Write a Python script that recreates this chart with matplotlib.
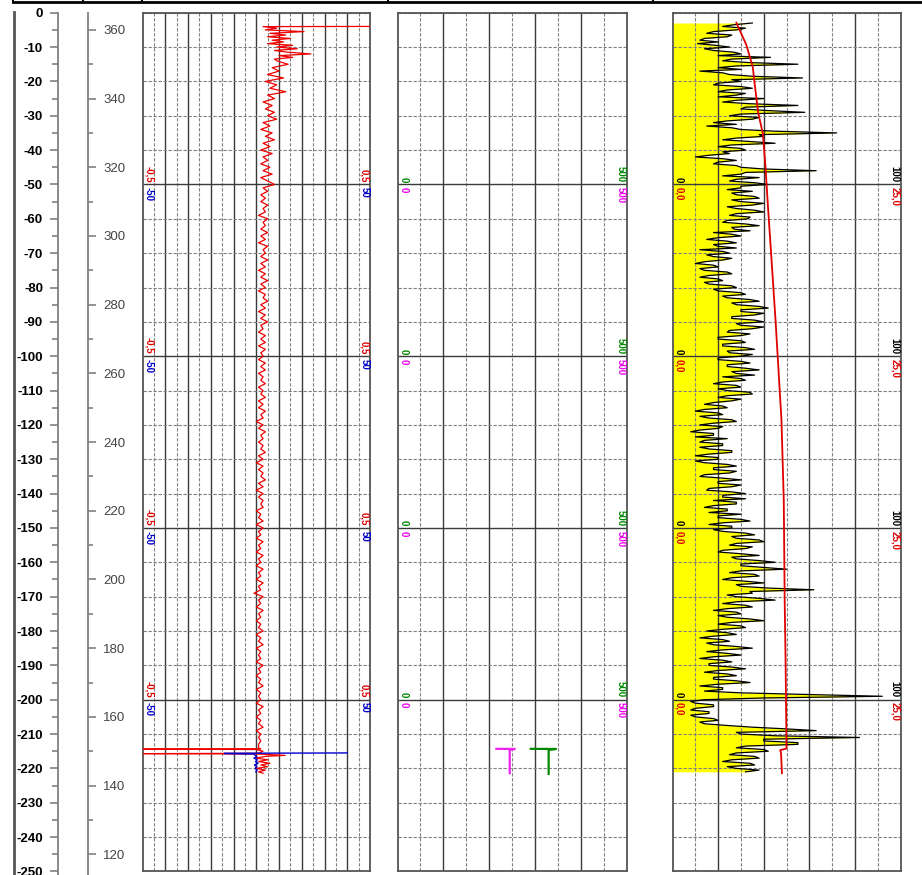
import numpy as np
import matplotlib
matplotlib.use('Agg')
import matplotlib.pyplot as plt
from matplotlib.ticker import FixedLocator, MultipleLocator
from matplotlib.lines import Line2D

plt.rcParams['font.family'] = ['Liberation Sans', 'DejaVu Sans']
plt.rcParams['axes.unicode_minus'] = False

# ---------------- data ----------------
label_depths = [-50, -100, -150, -200]

# Track 1: red curve (scale -0.5 .. 0.5)
t1_red_top_depth = [-4.0, -4.05, -4.5, -5.0, -5.5, -6.0, -6.5, -7.0, -7.5, -8.0, -8.5, -9.0,
                    -9.5, -10.0, -10.5, -11.0, -11.5, -12.0, -12.5, -13.0, -13.5]
t1_red_top_vals = [0.5, 0.03, 0.09, 0.04, 0.21, 0.06, 0.13, 0.05, 0.15, 0.07, 0.12, 0.05,
                   0.16, 0.09, 0.18, 0.08, 0.14, 0.24, 0.10, 0.16, 0.08]
t1_red_mid_start = 14
t1_red_mid_vals = [
    0.09, 0.14, 0.07, 0.10, 0.05, 0.12, 0.04, 0.09, 0.06, 0.13,
    0.05, 0.08, 0.03, 0.07, 0.04, 0.08, 0.05, 0.09, 0.03, 0.06,
    0.02, 0.07, 0.04, 0.08, 0.03, 0.06, 0.02, 0.07, 0.03, 0.05,
    0.02, 0.06, 0.03, 0.07, 0.02, 0.05, 0.08, 0.03, 0.05, 0.02,
    0.04, 0.02, 0.05, 0.03, 0.04, 0.01, 0.05, 0.03, 0.04, 0.02,
    0.05, 0.02, 0.04, 0.01, 0.05, 0.03, 0.04, 0.02, 0.05, 0.02,
    0.04, 0.01, 0.04, 0.02, 0.05, 0.02, 0.04, 0.01, 0.04, 0.03,
    0.05, 0.02, 0.04, 0.01, 0.04, 0.02, 0.05, 0.02, 0.03, 0.01,
    0.04, 0.02, 0.04, 0.01, 0.04, 0.02, 0.03, 0.01, 0.04, 0.02,
    0.04, 0.01, 0.03, 0.02, 0.04, 0.01, 0.03, 0.02, 0.04, 0.01,
    0.03, 0.01, 0.04, 0.02, 0.03, 0.00, 0.03, 0.01, 0.04, 0.02,
    0.03, 0.01, 0.03, 0.02, 0.04, 0.01, 0.03, 0.00, 0.03, 0.01,
    0.03, 0.02, 0.04, 0.01, 0.03, 0.00, 0.03, 0.01, 0.03, 0.02,
    0.03, 0.00, 0.02, 0.01, 0.03, 0.00, 0.03, 0.01, 0.02, 0.00,
    0.03, 0.01, 0.02, 0.00, 0.03, 0.01, 0.02, 0.00, 0.03, 0.01,
    0.02, 0.00, 0.03, 0.01, 0.02, -0.01, 0.03, 0.01, 0.02, 0.00,
    0.03, 0.01, 0.02, 0.00, 0.02, 0.01, 0.03, 0.00, 0.02, 0.01,
    0.03, 0.00, 0.02, 0.01, 0.02, 0.00, 0.03, 0.01, 0.02, 0.00,
    0.02, 0.01, 0.03, 0.00, 0.02, 0.01, 0.02, 0.00, 0.03, 0.01,
    0.02, 0.00, 0.02, 0.01, 0.03, 0.00, 0.02, 0.01, 0.02, 0.01,
]
t1_red_bot_depth = [-214.0, -214.3, -214.4, -214.5, -215.0, -215.6, -215.7, -215.8, -216.2,
                    -216.5, -217.0, -217.5, -218.0, -218.5, -219.0, -219.5, -220.0, -220.5,
                    -221.0, -221.4]
t1_red_bot_vals = [0.01, 0.02, -0.5, 0.0, 0.03, 0.01, -0.5, 0.0, 0.127,
                   0.04, 0.0, 0.05, 0.01, 0.06, 0.02, 0.05, 0.0, 0.04, 0.01, 0.03]

# Track 1: blue curve (scale -50 .. 50)
t1_blue_depth = [-215.5, -215.6, -215.7, -215.8, -216.2, -216.6, -217.0, -217.5, -218.0,
                 -218.5, -219.0, -219.5, -220.0, -220.5, -221.0]
t1_blue_vals = [40, -14, -14, -1.0, -0.5, 0.3, -1.0, 0.5, -0.3, 0.8, -0.8, 0.2, -0.5, 0.4, -0.2]

# Track 2: magenta and green (scale 0 .. 500)
t2_mag_depth = [-214.3, -214.35, -214.6, -221.4]
t2_mag_vals = [216, 256, 245, 245]
t2_green_depth = [-214.3, -214.35, -214.6, -221.6]
t2_green_vals = [291, 346, 330, 330]

# Track 3: GR (0 .. 100), one sample every half depth unit from 3
t3_gr_start = 3
t3_gr_step = 0.5
t3_gr_vals = [
    35, 27, 22, 32, 28, 18, 15, 26, 24, 14, 12, 20, 11, 19, 25, 14, 18, 27, 30, 20,
    43, 26, 22, 33, 55, 28, 20, 30, 12, 22, 25, 35, 57, 26, 30, 20, 18, 30, 35, 24,
    20, 32, 28, 20, 40, 28, 22, 34, 55, 32, 30, 42, 58, 30, 25, 38, 35, 24, 18, 28,
    15, 26, 30, 45, 72, 38, 40, 28, 22, 34, 45, 26, 20, 30, 32, 22, 25, 16, 10, 22,
    28, 20, 18, 28, 30, 40, 63, 32, 30, 22, 38, 28, 25, 36, 42, 30, 30, 24, 35, 26,
    28, 36, 38, 26, 30, 40, 35, 24, 28, 36, 40, 28, 25, 34, 33, 24, 22, 32, 38, 26,
    27, 34, 18, 26, 30, 20, 15, 24, 28, 18, 20, 28, 12, 22, 25, 15, 18, 26, 22, 14,
    10, 18, 20, 12, 14, 24, 26, 16, 12, 20, 22, 14, 16, 26, 28, 18, 20, 30, 32, 22,
    24, 34, 38, 26, 28, 38, 42, 30, 30, 40, 36, 26, 26, 36, 40, 28, 30, 40, 35, 25,
    24, 34, 30, 20, 20, 30, 32, 22, 22, 32, 36, 24, 25, 35, 30, 20, 20, 30, 34, 24,
    24, 32, 38, 26, 28, 36, 22, 30, 32, 22, 18, 28, 30, 20, 24, 34, 35, 24, 20, 30,
    26, 18, 14, 22, 24, 14, 10, 20, 22, 12, 16, 26, 28, 18, 12, 22, 20, 12, 8, 18,
    18, 10, 24, 14, 12, 22, 22, 12, 16, 26, 26, 16, 10, 20, 20, 10, 14, 24, 28, 18,
    18, 28, 25, 14, 12, 22, 30, 20, 20, 30, 26, 16, 15, 26, 32, 22, 22, 32, 18, 28,
    28, 18, 14, 24, 24, 16, 30, 20, 20, 30, 34, 22, 16, 26, 26, 18, 22, 32, 36, 26,
    28, 38, 40, 28, 25, 35, 32, 22, 20, 30, 38, 26, 28, 38, 45, 30, 30, 40, 50, 30,
    25, 36, 38, 26, 22, 32, 40, 28, 30, 42, 62, 34, 35, 24, 28, 38, 45, 28, 22, 32,
    35, 24, 18, 28, 30, 20, 24, 34, 40, 26, 20, 30, 32, 22, 15, 24, 28, 18, 12, 22,
    25, 15, 18, 28, 35, 22, 15, 24, 30, 18, 12, 22, 26, 16, 16, 26, 32, 20, 14, 24,
    28, 18, 18, 28, 34, 20, 12, 22, 22, 14, 30, 60, 92, 40, 14, 8, 10, 18, 18, 10,
    8, 16, 16, 8, 10, 18, 20, 12, 14, 24, 35, 50, 63, 28, 30, 45, 82, 40, 40, 55,
    55, 32, 28, 40, 42, 28, 25, 36, 38, 26, 22, 34, 36, 24, 28, 38, 32,
]
# Track 3: red curve (0 .. 25)
t3_red_depth = [-2.9, -9.4, -15.8, -20.5, -29.2, -35.1, -45.0, -53.7, -89.6, -118.7,
                -142.0, -171.0, -188.7, -213.5, -214.2, -214.7, -215.5, -221.4]
t3_red_vals = [7.0, 8.1, 8.8, 9.0, 9.4, 9.9, 10.2, 10.4, 11.3, 11.95,
               12.2, 12.3, 12.4, 12.5, 12.5, 11.8, 11.9, 12.0]

depth1_ticks = list(range(0, -251, -10))
depth2_ticks = list(range(120, 361, 20))
DEPTH2_OFFSET = 365

# ---------------- layout ----------------
W, H = 922, 875
PX = 3.435
Y0 = 12.7
YB = Y0 + 250 * PX

fig = plt.figure(figsize=(W / 100, H / 100), dpi=100)


def add_ax(x0, x1, y0, y1, **kw):
    return fig.add_axes([x0 / W, 1 - y1 / H, (x1 - x0) / W, (y1 - y0) / H], **kw)


# background / frame lines
bg = add_ax(0, W, 0, H)
bg.set_xlim(0, W)
bg.set_ylim(H, 0)
bg.axis('off')
bg.add_line(Line2D([13, W], [2, 2], color='black', lw=2))
for xd in [13, 83, 142, 388, 653]:
    bg.add_line(Line2D([xd, xd], [0, 2], color='black', lw=1.5))
bg.add_line(Line2D([13.5, 13.5], [12, H], color='#555555', lw=2))

# depth axis 1
ylow = -(H - Y0) / PX
a1 = add_ax(57, 58, Y0, H)
a1.set_ylim(ylow, 0)
a1.patch.set_visible(False)
for s in ['top', 'bottom', 'left']:
    a1.spines[s].set_visible(False)
a1.spines['right'].set_color('#808080')
a1.spines['right'].set_linewidth(1.3)
a1.set_xticks([])
a1.yaxis.set_major_locator(FixedLocator(depth1_ticks))
a1.yaxis.set_minor_locator(MultipleLocator(5))
a1.tick_params(axis='y', which='major', direction='in', length=6, width=1.2, color='#808080',
               pad=10, labelsize=9.5, labelcolor='black', left=False, right=True,
               labelleft=True)
a1.tick_params(axis='y', which='minor', direction='in', length=4, width=1.2, color='#808080',
               left=False, right=True)
for lab in a1.get_yticklabels():
    lab.set_fontweight('bold')

# depth axis 2
a2 = add_ax(87, 88, Y0, H)
a2.set_ylim(ylow + DEPTH2_OFFSET, DEPTH2_OFFSET)
a2.patch.set_visible(False)
for s in ['top', 'bottom', 'left']:
    a2.spines[s].set_visible(False)
a2.spines['right'].set_color('#808080')
a2.spines['right'].set_linewidth(1.3)
a2.set_xticks([])
a2.yaxis.tick_right()
a2.yaxis.set_major_locator(FixedLocator(depth2_ticks))
a2.yaxis.set_minor_locator(MultipleLocator(10))
a2.tick_params(axis='y', which='major', direction='out', length=6, width=1.2, color='#808080',
               pad=5, labelsize=9.5, labelcolor='#444444')
a2.tick_params(axis='y', which='minor', direction='out', length=3.5, width=1.2, color='#808080')


def make_track(x0, x1, xlim, major, minor):
    ax = add_ax(x0, x1, Y0, YB)
    ax.set_xlim(*xlim)
    ax.set_ylim(-250, 0)
    ax.xaxis.set_major_locator(FixedLocator(major))
    ax.xaxis.set_minor_locator(FixedLocator(minor))
    ax.yaxis.set_major_locator(FixedLocator(label_depths))
    ax.yaxis.set_minor_locator(MultipleLocator(10))
    ax.grid(which='major', color='#3a3a3a', lw=1.0, ls='-')
    ax.grid(which='minor', color='#808080', lw=0.8, ls=(0, (3, 1.5)))
    ax.tick_params(which='both', length=0, labelbottom=False, labelleft=False)
    for s in ax.spines.values():
        s.set_color('#555555')
        s.set_linewidth(1.3)
    return ax


def twin(ax, xlim):
    t = ax.twiny()
    t.set_xlim(*xlim)
    t.set_ylim(-250, 0)
    t.axis('off')
    return t


def scale_labels(ax, left, right, color, above):
    for d in label_depths:
        for xf, txt in ((0.027, left), (0.975, right)):
            ax.annotate(txt, xy=(xf, d), xycoords=('axes fraction', 'data'),
                        xytext=(0, 1.5 if above else -2), textcoords='offset points',
                        rotation=-90, ha='center', va='bottom' if above else 'top',
                        color=color, fontsize=7, fontweight='bold', zorder=5)


# Track 1
t1 = make_track(142.5, 370, (-0.5, 0.5),
                np.round(np.arange(-0.4, 0.41, 0.1), 2), np.round(np.arange(-0.45, 0.46, 0.1), 2))
red_depth = (t1_red_top_depth
             + [-(t1_red_mid_start + i) for i in range(len(t1_red_mid_vals))]
             + t1_red_bot_depth)
red_vals = t1_red_top_vals + t1_red_mid_vals + t1_red_bot_vals
t1.plot(red_vals, red_depth, color='#ee0000', lw=0.9, zorder=4)
t1b = twin(t1, (-50, 50))
t1b.plot(t1_blue_vals, t1_blue_depth, color='#0000cc', lw=1.0, zorder=5)
scale_labels(t1, '-0,5', '0,5', '#dd0000', True)
scale_labels(t1, '-50', '50', '#0000cc', False)

# Track 2
t2 = make_track(397.5, 626.5, (0, 500), [100, 200, 300, 400], [50, 150, 250, 350, 450])
t2.plot(t2_mag_vals, t2_mag_depth, color='#ee22ee', lw=1.6, zorder=4)
t2.plot(t2_green_vals, t2_green_depth, color='#008800', lw=1.6, zorder=4)
scale_labels(t2, '0', '500', '#008800', True)
scale_labels(t2, '0', '500', '#ee00ee', False)

# Track 3
t3 = make_track(672.5, 900.5, (0, 100), [20, 40, 60, 80], [10, 30, 50, 70, 90])
gr_depth = [-(t3_gr_start + t3_gr_step * i) for i in range(len(t3_gr_vals))]
t3.fill_betweenx(gr_depth, 0, t3_gr_vals, color='#ffff00', lw=0, zorder=1)
t3.plot(t3_gr_vals, gr_depth, color='black', lw=0.9, zorder=4)
t3r = twin(t3, (0, 25))
t3r.plot(t3_red_vals, t3_red_depth, color='#e00000', lw=1.3, zorder=5)
scale_labels(t3, '0', '100', 'black', True)
scale_labels(t3, '0,0', '25,0', '#dd0000', False)

fig.savefig('out.png', dpi=100)
